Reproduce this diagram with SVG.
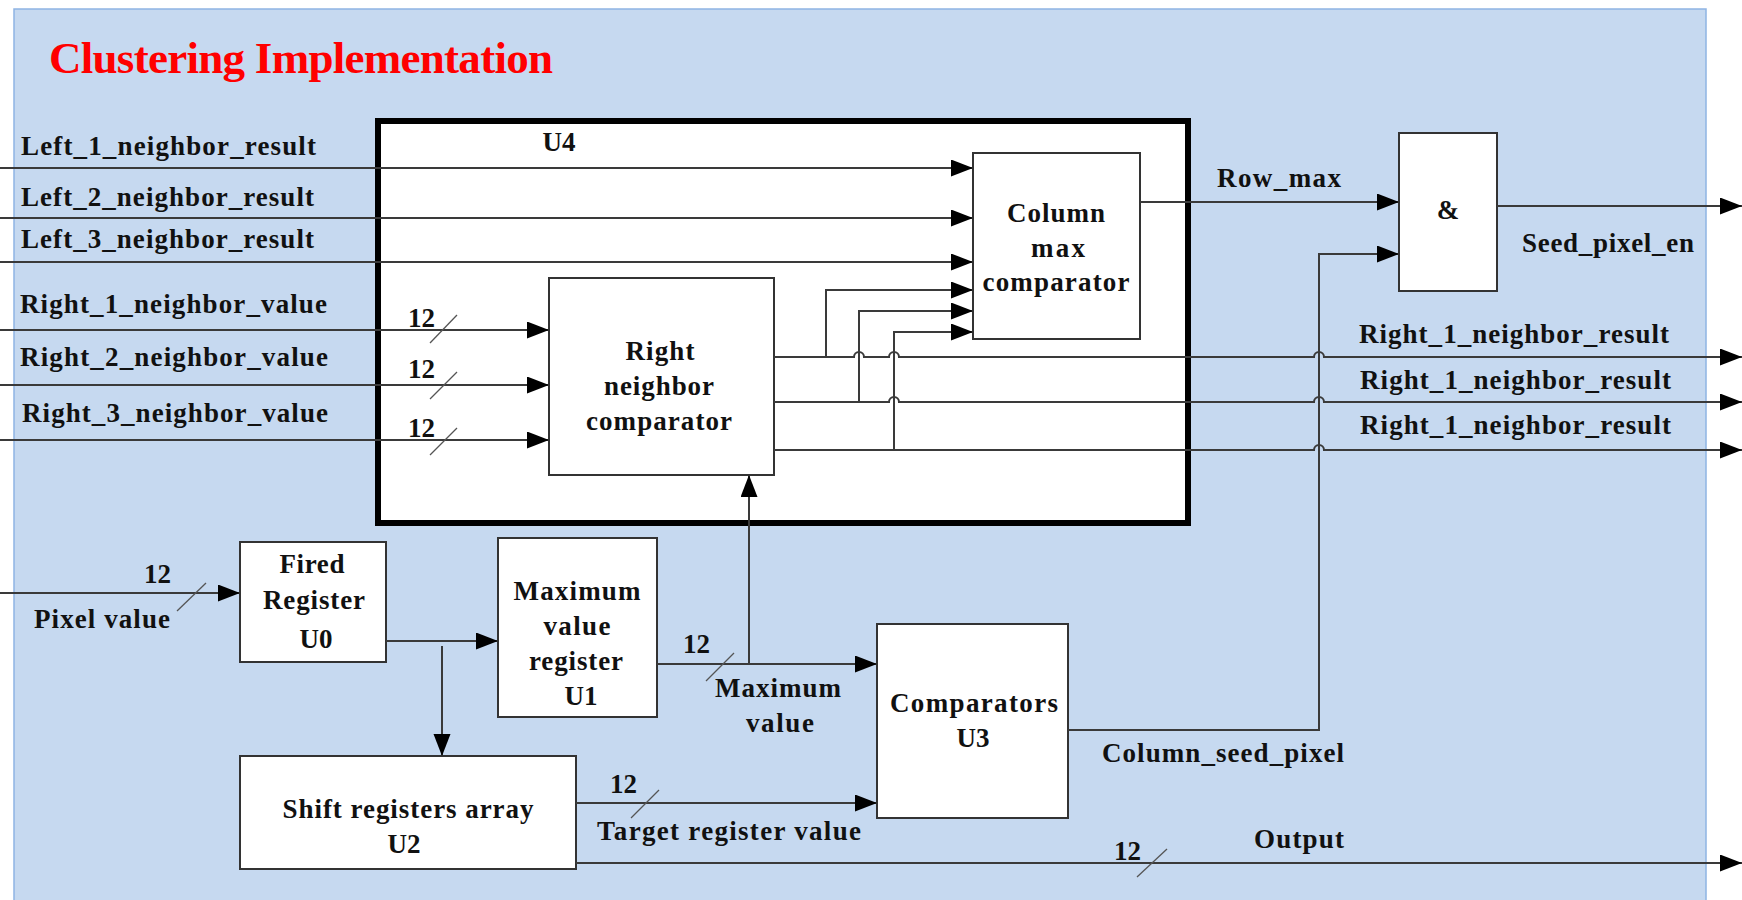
<svg xmlns="http://www.w3.org/2000/svg" width="1742" height="900" viewBox="0 0 1742 900">
<style>
.t{font-family:"Liberation Serif","Times New Roman",serif;font-weight:bold;font-size:27px;fill:#111}
.c{text-anchor:middle}
.box{fill:#fff;stroke:#333;stroke-width:2}
.ln{fill:none;stroke:#3a3a3a;stroke-width:2}
.sl{stroke:#555;stroke-width:1.3}
</style>
<defs>
<marker id="ar" markerUnits="userSpaceOnUse" markerWidth="23" markerHeight="18" refX="22" refY="8.5" orient="auto">
<path d="M0,0 L22,8.5 L0,17 z" fill="#000"/>
</marker>
</defs>
<rect x="14" y="9" width="1692" height="900" fill="#C6D9F0" stroke="#8EB4E3" stroke-width="1.5"/>
<text class="t" x="49" y="73" style="font-size:45px;fill:#FF0000" textLength="504" lengthAdjust="spacing">Clustering Implementation</text>

<g id="U4">
<rect x="378" y="121" width="810" height="402" fill="#fff" stroke="#000" stroke-width="6"/>
<text class="t c" x="559" y="151">U4</text>
</g>

<g id="col_max">
<rect class="box" x="973" y="153" width="167" height="186"/>
<text class="t c" x="1056" y="222" textLength="98" lengthAdjust="spacing">Column</text>
<text class="t c" x="1058" y="257" textLength="54" lengthAdjust="spacing">max</text>
<text class="t c" x="1056" y="291" textLength="147" lengthAdjust="spacing">comparator</text>
</g>

<g id="right_cmp">
<rect class="box" x="549" y="278" width="225" height="197"/>
<text class="t c" x="660" y="360" textLength="69" lengthAdjust="spacing">Right</text>
<text class="t c" x="659" y="395" textLength="110" lengthAdjust="spacing">neighbor</text>
<text class="t c" x="659" y="430" textLength="146" lengthAdjust="spacing">comparator</text>
</g>

<g id="and_gate">
<rect class="box" x="1399" y="133" width="98" height="158"/>
<text class="t c" x="1448" y="219">&amp;</text>
</g>

<g id="U0">
<rect class="box" x="240" y="542" width="146" height="120"/>
<text class="t c" x="312" y="573" textLength="65" lengthAdjust="spacing">Fired</text>
<text class="t c" x="314" y="609" textLength="102" lengthAdjust="spacing">Register</text>
<text class="t c" x="316" y="648">U0</text>
</g>

<g id="U1">
<rect class="box" x="498" y="538" width="159" height="179"/>
<text class="t c" x="577" y="600" textLength="127" lengthAdjust="spacing">Maximum</text>
<text class="t c" x="577" y="635" textLength="67" lengthAdjust="spacing">value</text>
<text class="t c" x="576" y="670" textLength="94" lengthAdjust="spacing">register</text>
<text class="t c" x="581" y="705">U1</text>
</g>

<g id="U2">
<rect class="box" x="240" y="756" width="336" height="113"/>
<text class="t c" x="408" y="818" textLength="251" lengthAdjust="spacing">Shift registers array</text>
<text class="t c" x="404" y="853">U2</text>
</g>

<g id="U3">
<rect class="box" x="877" y="624" width="191" height="194"/>
<text class="t c" x="974" y="712" textLength="168" lengthAdjust="spacing">Comparators</text>
<text class="t c" x="973" y="747">U3</text>
</g>

<g id="connectors">
<path class="ln" d="M0,168 H973" marker-end="url(#ar)"/>
<path class="ln" d="M0,218 H973" marker-end="url(#ar)"/>
<path class="ln" d="M0,262 H973" marker-end="url(#ar)"/>
<path class="ln" d="M0,330 H549" marker-end="url(#ar)"/>
<path class="ln" d="M0,385 H549" marker-end="url(#ar)"/>
<path class="ln" d="M0,440 H549" marker-end="url(#ar)"/>
<path class="ln" d="M826,357 V290 H973" marker-end="url(#ar)"/>
<path class="ln" d="M859,402 V311 H973" marker-end="url(#ar)"/>
<path class="ln" d="M894,450 V332 H973" marker-end="url(#ar)"/>
<path class="ln" d="M774,357 H854 a5,5 0 0 1 10,0 H889 a5,5 0 0 1 10,0 H1314 a5,5 0 0 1 10,0 H1742" marker-end="url(#ar)"/>
<path class="ln" d="M774,402 H889 a5,5 0 0 1 10,0 H1314 a5,5 0 0 1 10,0 H1742" marker-end="url(#ar)"/>
<path class="ln" d="M774,450 H1314 a5,5 0 0 1 10,0 H1742" marker-end="url(#ar)"/>
<path class="ln" d="M1140,202 H1399" marker-end="url(#ar)"/>
<path class="ln" d="M1497,206 H1742" marker-end="url(#ar)"/>
<path class="ln" d="M1068,730 H1319 V254 H1399" marker-end="url(#ar)"/>
<path class="ln" d="M0,593 H240" marker-end="url(#ar)"/>
<path class="ln" d="M386,641 H498" marker-end="url(#ar)"/>
<path class="ln" d="M442,646 V756" marker-end="url(#ar)"/>
<path class="ln" d="M657,664 H877" marker-end="url(#ar)"/>
<path class="ln" d="M749,664 V475" marker-end="url(#ar)"/>
<path class="ln" d="M576,803 H877" marker-end="url(#ar)"/>
<path class="ln" d="M576,863 H1742" marker-end="url(#ar)"/>
<line class="sl" x1="430" y1="343" x2="457" y2="315"/>
<line class="sl" x1="430" y1="399" x2="457" y2="372"/>
<line class="sl" x1="430" y1="455" x2="457" y2="428"/>
<line class="sl" x1="177" y1="611" x2="206" y2="583"/>
<line class="sl" x1="706" y1="681" x2="734" y2="653"/>
<line class="sl" x1="631" y1="818" x2="659" y2="790"/>
<line class="sl" x1="1137" y1="877" x2="1167" y2="849"/>
</g>

<g id="labels">
<text class="t" x="21" y="155" textLength="295" lengthAdjust="spacing">Left_1_neighbor_result</text>
<text class="t" x="21" y="206" textLength="293" lengthAdjust="spacing">Left_2_neighbor_result</text>
<text class="t" x="21" y="248" textLength="293" lengthAdjust="spacing">Left_3_neighbor_result</text>
<text class="t" x="20" y="313" textLength="307" lengthAdjust="spacing">Right_1_neighbor_value</text>
<text class="t" x="20" y="366" textLength="308" lengthAdjust="spacing">Right_2_neighbor_value</text>
<text class="t" x="22" y="422" textLength="306" lengthAdjust="spacing">Right_3_neighbor_value</text>
<text class="t" x="408" y="327">12</text>
<text class="t" x="408" y="378">12</text>
<text class="t" x="408" y="437">12</text>
<text class="t" x="1217" y="187" textLength="124" lengthAdjust="spacing">Row_max</text>
<text class="t" x="1522" y="252" textLength="172" lengthAdjust="spacing">Seed_pixel_en</text>
<text class="t" x="1359" y="343" textLength="310" lengthAdjust="spacing">Right_1_neighbor_result</text>
<text class="t" x="1360" y="389" textLength="311" lengthAdjust="spacing">Right_1_neighbor_result</text>
<text class="t" x="1360" y="434" textLength="311" lengthAdjust="spacing">Right_1_neighbor_result</text>
<text class="t" x="144" y="583">12</text>
<text class="t" x="34" y="628" textLength="136" lengthAdjust="spacing">Pixel value</text>
<text class="t" x="683" y="653">12</text>
<text class="t" x="715" y="697" textLength="126" lengthAdjust="spacing">Maximum</text>
<text class="t" x="746" y="732" textLength="68" lengthAdjust="spacing">value</text>
<text class="t" x="1102" y="762" textLength="242" lengthAdjust="spacing">Column_seed_pixel</text>
<text class="t" x="610" y="793">12</text>
<text class="t" x="597" y="840" textLength="264" lengthAdjust="spacing">Target register value</text>
<text class="t" x="1114" y="860">12</text>
<text class="t" x="1254" y="848" textLength="90" lengthAdjust="spacing">Output</text>
</g>
</svg>
